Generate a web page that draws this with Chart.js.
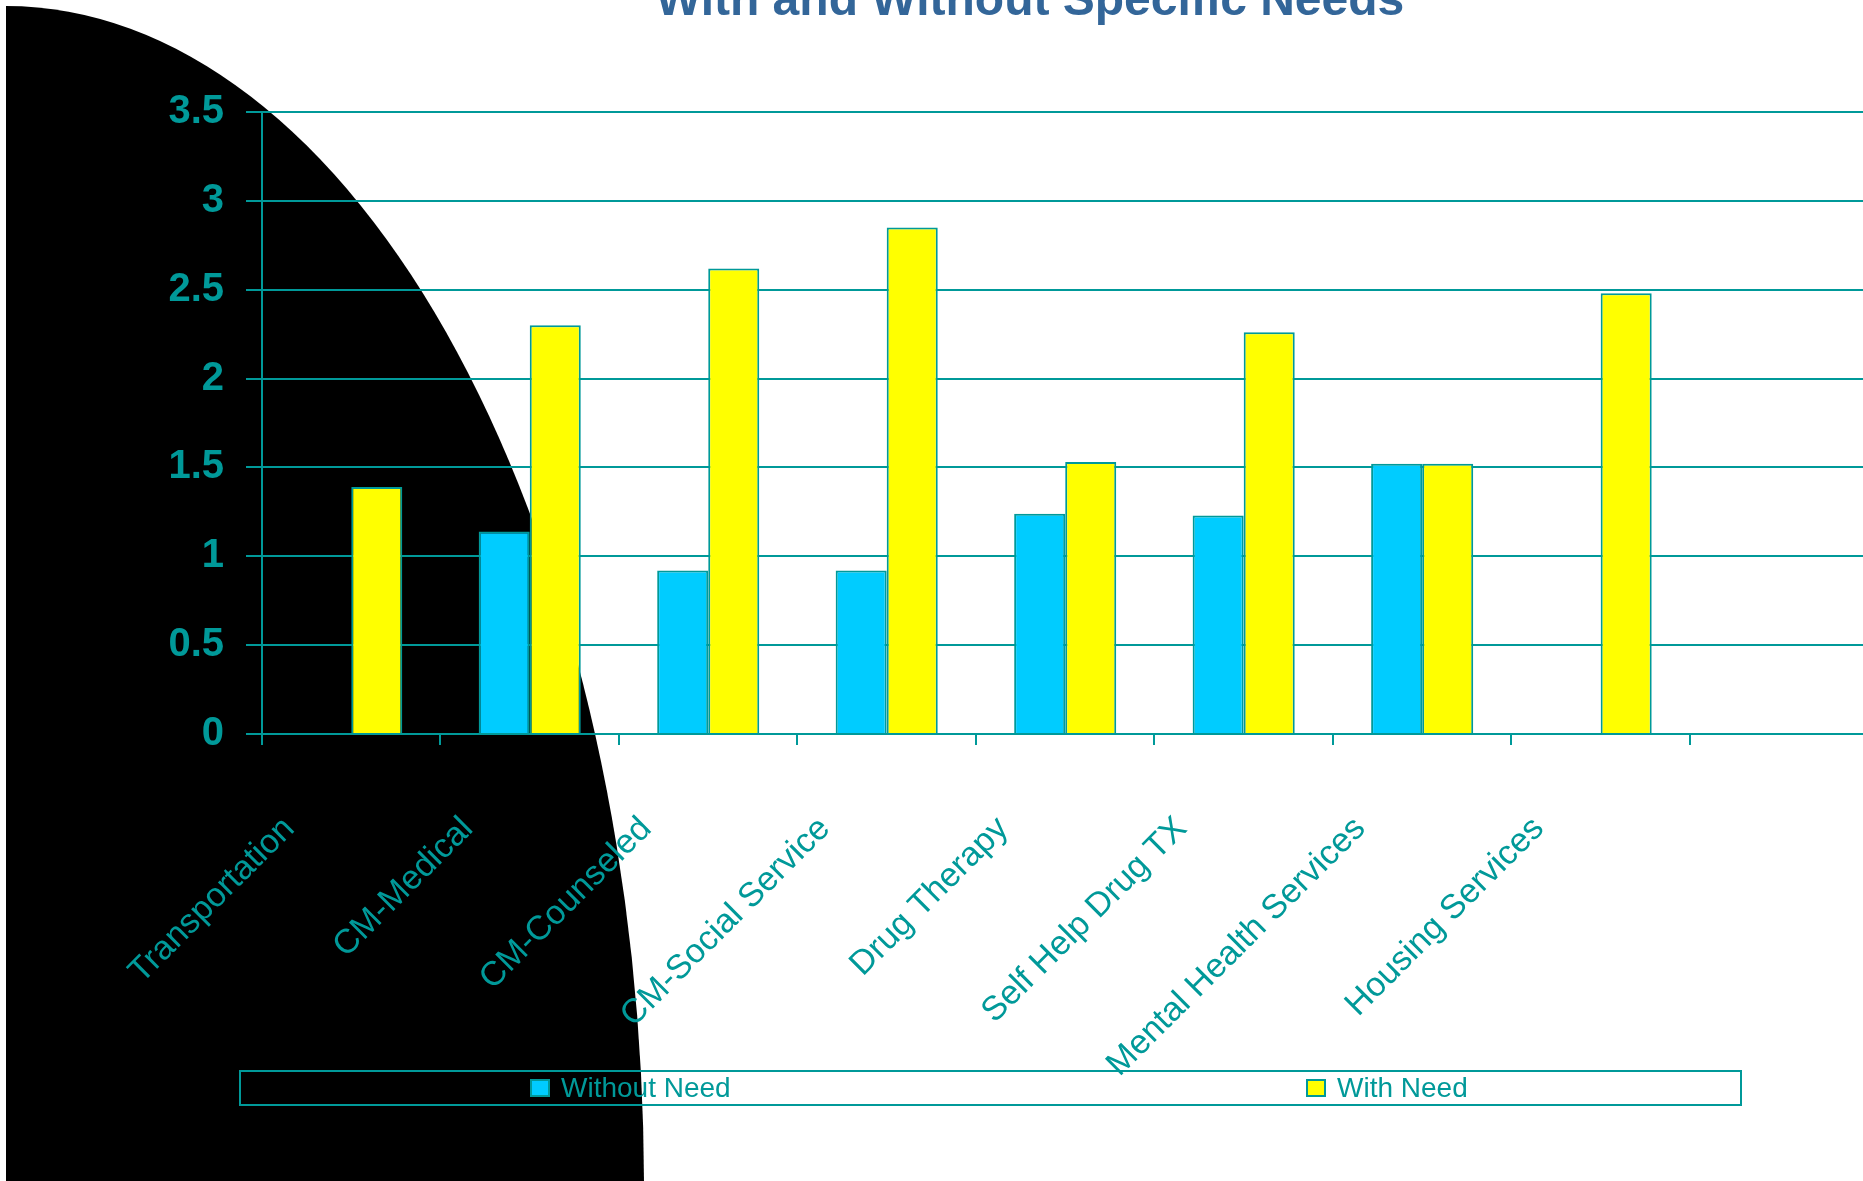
<!DOCTYPE html>
<html>
<head>
<meta charset="utf-8">
<script src="https://cdn.jsdelivr.net/npm/chart.js@4"></script>
<style>
  html, body { margin: 0; padding: 0; background: #ffffff; }
  body { width: 1863px; height: 1181px; overflow: hidden; position: relative; }
  #wrap { position: absolute; left: 0; top: 0; width: 1872px; height: 1181px; }
  #legend {
    position: absolute; left: 239px; top: 1070px; width: 1499px; height: 32px;
    border: 2px solid #009999;
  }
  #legend .item { position: absolute; top: 0; height: 32px; display: flex; align-items: center; }
  #legend .swatch { width: 16px; height: 14px; border: 2px solid #009999; margin-right: 11px; }
  #legend .txt { color: #009999; font-size: 28px; line-height: 32px;
    font-family: "Liberation Sans", Arial, sans-serif; }
</style>
</head>
<body>
<div id="wrap"><canvas id="chart" width="1872" height="1181"></canvas></div>
<div id="legend"></div>

<script>
// values
const categories  = ["Transportation", "CM-Medical", "CM-Counseled", "CM-Social Service",
                     "Drug Therapy", "Self Help Drug TX", "Mental Health Services", "Housing Services", ""];
const withoutNeed = [null, 1.14, 0.92, 0.92, 1.24, 1.23, 1.52, null, null];
const withNeed    = [1.39, 2.30, 2.62, 2.85, 1.53, 2.26, 1.52, 2.48, null];
const yTickValues = [0, 0.5, 1, 1.5, 2, 2.5, 3, 3.5];
const seriesNames = ["Without Need", "With Need"];
const titleText   = "With and Without Specific Needs";

const TEAL = "#009999";
const FONT = "'Liberation Sans', Arial, sans-serif";

// big black quarter-ellipse behind the chart
const blobPlugin = {
  id: "blob",
  beforeDraw(chart) {
    const ctx = chart.ctx;
    ctx.save();
    ctx.beginPath();
    ctx.rect(6, 6, chart.width, chart.height);
    ctx.clip();
    ctx.fillStyle = "#000000";
    ctx.beginPath();
    ctx.ellipse(6, 1188, 638, 1182, 0, 0, Math.PI * 2);
    ctx.fill();
    ctx.restore();
  }
};

// title sits partly above the top edge in the original
const topTitle = {
  id: "topTitle",
  afterDraw(chart) {
    const ctx = chart.ctx;
    ctx.save();
    ctx.font = "bold 48px " + FONT;
    ctx.fillStyle = "#336699";
    ctx.textAlign = "center";
    ctx.textBaseline = "alphabetic";
    ctx.fillText(titleText, 1030, 15);
    ctx.restore();
  }
};

const ctx = document.getElementById("chart").getContext("2d");
const chart = new Chart(ctx, {
  type: "bar",
  data: {
    labels: categories,
    datasets: [
      {
        label:           seriesNames[0],
        data:            withoutNeed,
        backgroundColor: "#00CCFF",
        borderColor:     TEAL,
        borderWidth:     2,
        borderSkipped:   "bottom",
      },
      {
        label:           seriesNames[1],
        data:            withNeed,
        backgroundColor: "#FFFF00",
        borderColor:     TEAL,
        borderWidth:     2,
        borderSkipped:   "bottom",
      }
    ]
  },
  options: {
    responsive: false,
    animation:  false,
    categoryPercentage: 0.572,
    barPercentage:      1.0,
    layout: { padding: { top: 112, left: 0, right: 0, bottom: 0 } },
    plugins: {
      legend:  { display: false },
      tooltip: { enabled: false },
      title:   { display: false },
    },
    scales: {
      x: {
        grid:   { drawOnChartArea: false, color: TEAL, lineWidth: 2, tickLength: 11, offset: true },
        border: { color: TEAL, width: 2 },
        ticks: {
          color: TEAL, autoSkip: false, minRotation: 45, maxRotation: 45,
          labelOffset: -62, padding: 64,
          font: { family: FONT, size: 34 },
        },
        afterFit(scale) { scale.height = 1181 - 734; },
      },
      y: {
        min: 0, max: 3.5,
        afterBuildTicks(scale) { scale.ticks = yTickValues.map(v => ({ value: v })); },
        grid:   { color: TEAL, lineWidth: 2, tickLength: 16 },
        border: { color: TEAL, width: 2 },
        ticks:  {
          color: TEAL, padding: 22,
          font: { family: FONT, size: 40, weight: "bold" },
          callback: (v) => String(v),
        },
        afterFit(scale) { scale.width = 262; },
      }
    }
  },
  plugins: [blobPlugin, topTitle]
});

// html legend built from the datasets
const legendEl = document.getElementById("legend");
const itemLeft = [289, 1065];
chart.data.datasets.forEach((ds, i) => {
  const item = document.createElement("div");
  item.className = "item";
  item.style.left = itemLeft[i] + "px";
  const sw = document.createElement("span");
  sw.className = "swatch";
  sw.style.background = ds.backgroundColor;
  const tx = document.createElement("span");
  tx.className = "txt";
  tx.textContent = ds.label;
  item.appendChild(sw);
  item.appendChild(tx);
  legendEl.appendChild(item);
});
</script>
</body>
</html>
